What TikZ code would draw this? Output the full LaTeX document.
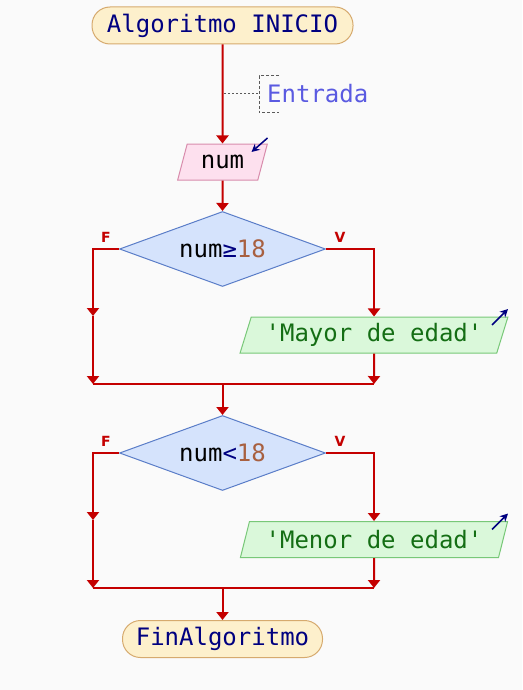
\documentclass[tikz,border=0pt]{standalone}
\usepackage{fontspec}
\setmonofont{DejaVu Sans Mono}
\setsansfont{DejaVu Sans}
\usetikzlibrary{shapes.geometric,arrows.meta,calc}
\definecolor{bg}{RGB}{250,250,250}
\definecolor{flow}{RGB}{196,0,0}
\definecolor{termfill}{RGB}{253,240,204}
\definecolor{termdraw}{RGB}{214,170,110}
\definecolor{decfill}{RGB}{213,227,252}
\definecolor{decdraw}{RGB}{90,125,200}
\definecolor{infill}{RGB}{253,224,238}
\definecolor{indraw}{RGB}{216,140,172}
\definecolor{outfill}{RGB}{218,248,218}
\definecolor{outdraw}{RGB}{120,200,120}
\definecolor{navy}{RGB}{0,0,128}
\definecolor{txtgreen}{RGB}{20,110,20}
\definecolor{numcol}{RGB}{168,96,64}
\definecolor{comm}{RGB}{90,90,225}
\definecolor{commline}{RGB}{90,90,90}
\begin{document}
\begin{tikzpicture}[x=1pt,y=-1pt,
  font=\ttfamily\fontsize{24}{28}\selectfont,
  term/.style={draw=termdraw, fill=termfill, rounded corners=18pt, minimum height=37pt, inner sep=0pt, text=navy, line width=1pt},
  dec/.style={diamond, draw=decdraw, fill=decfill, minimum width=206pt, minimum height=75pt, inner sep=0pt, aspect=2.75, line width=1pt},
  para/.style={trapezium, trapezium left angle=67, trapezium right angle=113, trapezium stretches=true, minimum height=36pt, inner sep=0pt, line width=1pt},
  inpara/.style={para, draw=indraw, fill=infill},
  outpara/.style={para, draw=outdraw, fill=outfill, text=txtgreen},
  flowline/.style={draw=flow, line width=2pt},
  flowarr/.style={flowline, -{Triangle[width=12pt,length=8pt]}},
  ioarr/.style={draw=navy, line width=1.5pt, -{Stealth[length=8pt,width=8pt]}},
  lbl/.style={font=\sffamily\bfseries\fontsize{14}{16}\selectfont, text=flow}]
\fill[bg] (0,0) rectangle (522,690);
\useasboundingbox (0,0) rectangle (522,690);

% nodes
\node[term, minimum width=261pt] (start) at (222.5,25.5) {Algoritmo INICIO};
\node[inpara, minimum width=90pt] (num) at (222.5,162) {num};
\node[dec] (d1) at (222.5,249) {num{\color{navy}≥}{\color{numcol}18}};
\node[outpara, minimum width=268pt] (p1) at (374,335) {'Mayor de edad'};
\node[dec] (d2) at (222.5,453) {num{\color{navy}<}{\color{numcol}18}};
\node[outpara, minimum width=268pt] (p2) at (374,539.5) {'Menor de edad'};
\node[term, minimum width=200pt] (fin) at (222.5,639) {FinAlgoritmo};

\node[lbl] (f1) at (106,237) {F};
\node[lbl] (v1) at (340,237) {V};
\node[lbl] (f2) at (106,441) {F};
\node[lbl] (v2) at (340,441) {V};

% comment
\node[anchor=west, text=comm, inner sep=0pt] (ent) at (267,94) {Entrada};
\coordinate (cm) at (224,94);
\coordinate (cb) at (259,94);
\draw[commline, line width=1pt, dash pattern=on 2pt off 2pt] (cm) -- (cb);
\draw[commline, line width=1pt, dash pattern=on 3pt off 2pt] (279,76) -- (259,76) -- (259,113) -- (279,113);

% coordinates
\coordinate (L1m) at (93,316);
\coordinate (J1l) at (93,384);
\coordinate (J1r) at (374,384);
\coordinate (J1c) at (222.5,384);
\coordinate (L2m) at (93,520);
\coordinate (J2l) at (93,588);
\coordinate (J2r) at (374,588);
\coordinate (J2c) at (222.5,588);

% connectors
\draw[flowarr] (start) -- (num);
\draw[flowarr] (num) -- (d1);
\draw[flowarr] (d1.west) -| (L1m);
\draw[flowarr] (L1m) -- (J1l);
\draw[flowarr] (d1.east) -| (p1.north);
\draw[flowarr] (p1.south) -- (J1r);
\draw[flowline] (J1l) -- (J1r);
\draw[flowarr] (J1c) -- (d2);
\draw[flowarr] (d2.west) -| (L2m);
\draw[flowarr] (L2m) -- (J2l);
\draw[flowarr] (d2.east) -| (p2.north);
\draw[flowarr] (p2.south) -- (J2r);
\draw[flowline] (J2l) -- (J2r);
\draw[flowarr] (J2c) -- (fin);

% io arrows
\draw[ioarr] ($(num.center)+(45,-24)$) -- ($(num.center)+(29,-10)$);
\draw[ioarr] ($(p1.center)+(118,-10)$) -- ($(p1.center)+(134,-26)$);
\draw[ioarr] ($(p2.center)+(118,-10)$) -- ($(p2.center)+(134,-26)$);
\end{tikzpicture}
\end{document}
